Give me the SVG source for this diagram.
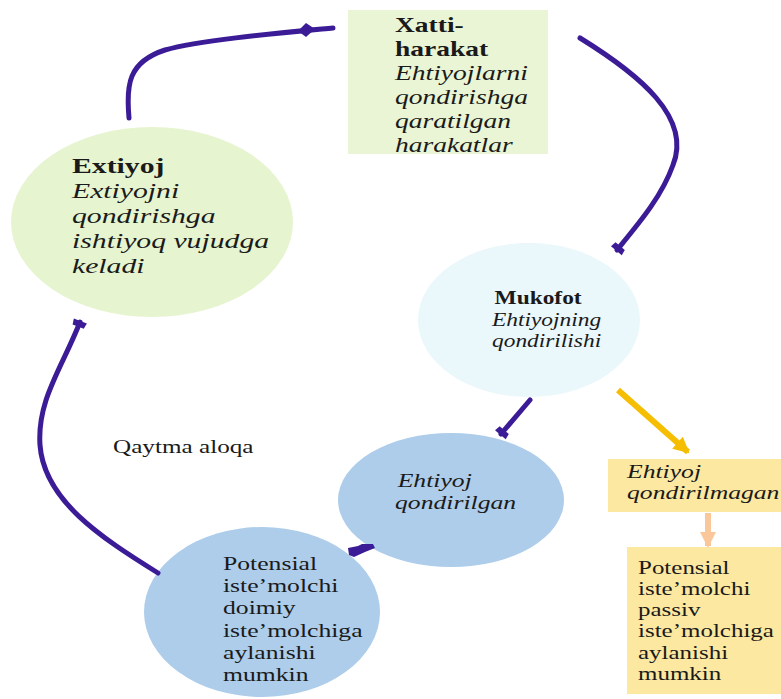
<svg xmlns="http://www.w3.org/2000/svg" width="781" height="699" viewBox="0 0 781 699">
<defs>
<style>
.t{font-family:"Liberation Serif","Times New Roman",serif;fill:#1a1a1a}
.b{font-weight:bold}
.i{font-style:italic}
.pl{fill:none;stroke:#3B1C96;stroke-width:5;stroke-linecap:round}
</style>
<marker id="bar" markerUnits="userSpaceOnUse" markerWidth="18" markerHeight="18" refX="9" refY="9" orient="auto">
<path d="M4,3 L10,2 L10,16 L4,15 Z" fill="#3B1C96"/>
</marker>
<marker id="ag" markerUnits="userSpaceOnUse" markerWidth="20" markerHeight="20" refX="16" refY="10" orient="auto">
<path d="M2,2 L18,10 L2,18 Z" fill="#F5BE00"/>
</marker>
<marker id="ap" markerUnits="userSpaceOnUse" markerWidth="20" markerHeight="20" refX="16" refY="10" orient="auto">
<path d="M2,2 L18,10 L2,18 Z" fill="#F9C79A"/>
</marker>
</defs>
<rect width="781" height="699" fill="#ffffff"/>

<g id="xatti">
<rect x="348" y="10" width="200" height="144" fill="#EAF5D5"/>
<text class="t" font-size="22" transform="translate(395 0) scale(1.25 1)">
<tspan class="b" x="0" y="32">Xatti-</tspan>
<tspan class="b" x="0" y="56">harakat</tspan>
<tspan class="i" x="0" y="80">Ehtiyojlarni</tspan>
<tspan class="i" x="0" y="104">qondirishga</tspan>
<tspan class="i" x="0" y="128">qaratilgan</tspan>
<tspan class="i" x="0" y="152">harakatlar</tspan>
</text>
</g>

<g id="extiyoj">
<ellipse cx="152" cy="222" rx="141" ry="95" fill="#E6F4D0"/>
<text class="t" font-size="22" transform="translate(72 0) scale(1.35 1)">
<tspan class="b" x="0" y="173">Extiyoj</tspan>
<tspan class="i" x="0" y="198">Extiyojni</tspan>
<tspan class="i" x="0" y="223">qondirishga</tspan>
<tspan class="i" x="0" y="248">ishtiyoq vujudga</tspan>
<tspan class="i" x="0" y="273">keladi</tspan>
</text>
</g>

<g id="mukofot">
<ellipse cx="529" cy="320" rx="111" ry="77" fill="#EAF7FB"/>
<text class="t" font-size="18" transform="translate(492 0) scale(1.3 1)">
<tspan class="b" x="2" y="304">Mukofot</tspan>
<tspan class="i" x="0" y="326">Ehtiyojning</tspan>
<tspan class="i" x="0" y="347">qondirilishi</tspan>
</text>
</g>

<g id="qondirilgan">
<ellipse cx="451" cy="500" rx="113" ry="67" fill="#ADCDEA"/>
<text class="t i" font-size="19" transform="translate(395 0) scale(1.35 1)">
<tspan x="2" y="487">Ehtiyoj</tspan>
<tspan x="0" y="509">qondirilgan</tspan>
</text>
</g>

<g id="potensial1">
<ellipse cx="262" cy="612" rx="118" ry="85" fill="#ADCDEA"/>
<text class="t" font-size="19" transform="translate(223 0) scale(1.35 1)">
<tspan x="0" y="570">Potensial</tspan>
<tspan x="0" y="592">iste’molchi</tspan>
<tspan x="0" y="614">doimiy</tspan>
<tspan x="0" y="637">iste’molchiga</tspan>
<tspan x="0" y="659">aylanishi</tspan>
<tspan x="0" y="681">mumkin</tspan>
</text>
</g>

<g id="qondirilmagan">
<rect x="608" y="459" width="173" height="53" fill="#FCE8A0"/>
<text class="t i" font-size="19" transform="translate(627 0) scale(1.35 1)">
<tspan x="0" y="478">Ehtiyoj</tspan>
<tspan x="0" y="499">qondirilmagan</tspan>
</text>
</g>

<g id="potensial2">
<rect x="627" y="547" width="154" height="147" fill="#FCE8A0"/>
<text class="t" font-size="18.5" transform="translate(638 0) scale(1.35 1)">
<tspan x="0" y="574">Potensial</tspan>
<tspan x="0" y="595">iste’molchi</tspan>
<tspan x="0" y="616">passiv</tspan>
<tspan x="0" y="637">iste’molchiga</tspan>
<tspan x="0" y="659">aylanishi</tspan>
<tspan x="0" y="680">mumkin</tspan>
</text>
</g>

<g id="qaytma">
<text class="t" font-size="18" transform="translate(113 0) scale(1.4 1)"><tspan x="0" y="453">Qaytma aloqa</tspan></text>
</g>

<g id="connectors">
<path class="pl" d="M129,118 C126,85 128,62 165,50 C200,40 280,33 333,28"/>
<polygon points="298,31 306,23 315,29 306,37" fill="#3B1C96"/>
<path class="pl" d="M580,38 C640,75 692,118 673,165 C662,196 640,222 617,250" marker-end="url(#bar)"/>
<path class="pl" d="M530,400 L501,434" marker-end="url(#bar)"/>
<path class="pl" d="M158,573 C100,537 44,500 40,445 C37,400 62,368 80,322" marker-end="url(#bar)"/>
<polygon points="348,548 358,546 362,544 373,544 375,548 365,552 354,557 349,555" fill="#3B1C96"/>
<path d="M618,390 L688,452" stroke="#F5BE00" stroke-width="6" fill="none" marker-end="url(#ag)"/>
<path d="M708,513 L708,546" stroke="#F9C79A" stroke-width="6" fill="none" marker-end="url(#ap)"/>
</g>
</svg>
